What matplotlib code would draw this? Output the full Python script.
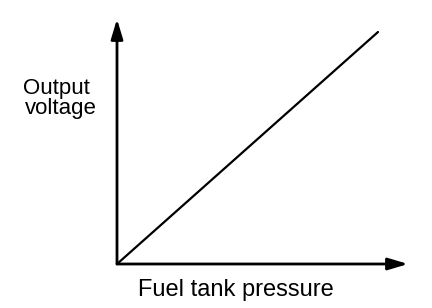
import matplotlib
matplotlib.use("Agg")
import matplotlib.pyplot as plt

# Data (schematic, proportional relationship)
pressure = [0.0, 1.0]
voltage = [0.0, 1.0]
x_label = "Fuel tank pressure"
y_label_lines = ["Output", "voltage"]

W, H = 432, 308
fig = plt.figure(figsize=(W / 100, H / 100), dpi=100)
fig.patch.set_facecolor("white")

ox, oy = 117, 264      # origin (pixels from top-left)
ex, ey = 378, 32       # end of data line
ax = fig.add_axes([ox / W, (H - oy) / H, (ex - ox) / W, (oy - ey) / H])
ax.set_xlim(0, 1)
ax.set_ylim(0, 1)
ax.axis("off")

ax.plot(pressure, voltage, color="black", lw=1.6, solid_capstyle="round", clip_on=False)

xtip = (408 - ox) / (ex - ox)
ytip = (oy - 19) / (oy - ey)
arrow = dict(arrowstyle="-|>,head_length=0.6,head_width=0.18", mutation_scale=20,
             lw=2.0, color="black", shrinkA=0, shrinkB=0)
ax.annotate("", xy=(xtip, 0), xytext=(0, 0), xycoords="axes fraction",
            textcoords="axes fraction", arrowprops=arrow, annotation_clip=False)
ax.annotate("", xy=(0, ytip), xytext=(0, 0), xycoords="axes fraction",
            textcoords="axes fraction", arrowprops=arrow, annotation_clip=False)

yfont = dict(family=["Liberation Sans", "DejaVu Sans"], fontsize=16, color="black")
xfont = dict(family=["Liberation Sans", "DejaVu Sans"], fontsize=17, color="black")
fig.text(23 / W, (H - 94) / H, y_label_lines[0], ha="left", va="baseline", **yfont)
fig.text(25 / W, (H - 114) / H, y_label_lines[1], ha="left", va="baseline", **yfont)
fig.text(138 / W, (H - 296) / H, x_label, ha="left", va="baseline", **xfont)

fig.savefig("out.png", dpi=100, facecolor="white")
